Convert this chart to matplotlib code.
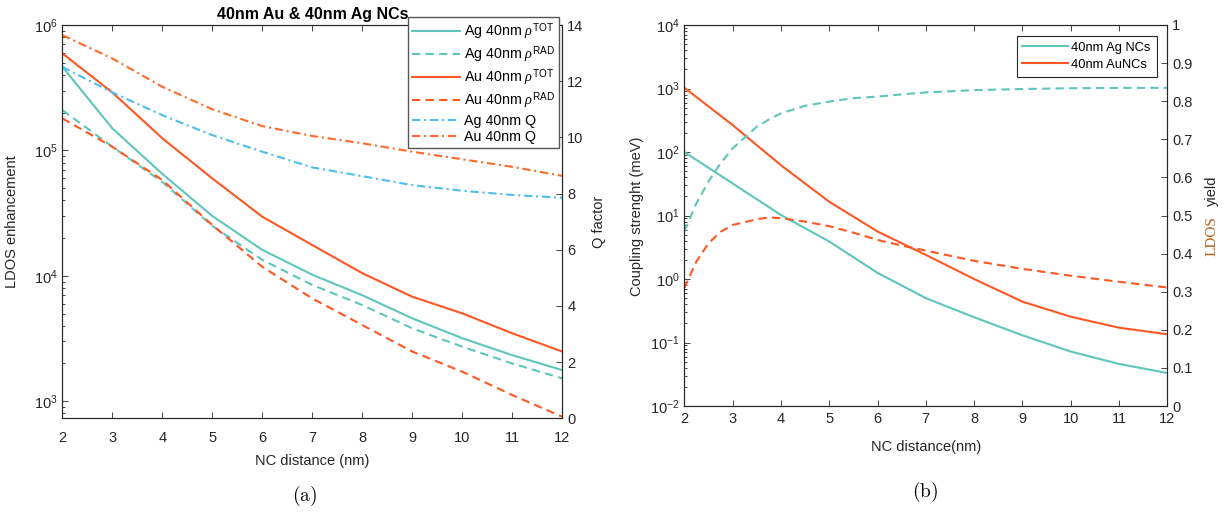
import matplotlib
matplotlib.use('Agg')
from matplotlib import pyplot as plt
import numpy as np

plt.rcParams['font.family'] = ['Liberation Sans', 'DejaVu Sans']
plt.rcParams['mathtext.fontset'] = 'custom'
plt.rcParams['mathtext.rm'] = 'Liberation Sans'
plt.rcParams['mathtext.it'] = 'Liberation Serif:italic'
plt.rcParams['mathtext.sf'] = 'Liberation Sans'

# panel (a): LDOS enhancement (left axis) and Q factor (right axis)
dist = [2, 3, 4, 5, 6, 7, 8, 9, 10, 11, 12]
ag_tot = [4.65e5, 1.5e5, 6.5e4, 3.0e4, 1.61e4, 1.02e4, 7.0e3, 4.58e3, 3.18e3, 2.33e3, 1.77e3]
ag_rad = [2.10e5, 1.07e5, 5.6e4, 2.5e4, 1.34e4, 8.45e3, 5.85e3, 3.81e3, 2.72e3, 2.0e3, 1.52e3]
au_tot = [5.94e5, 2.90e5, 1.25e5, 5.98e4, 2.96e4, 1.76e4, 1.05e4, 6.81e3, 5.02e3, 3.48e3, 2.49e3]
au_rad = [1.80e5, 1.07e5, 5.8e4, 2.54e4, 1.18e4, 6.6e3, 4.05e3, 2.49e3, 1.72e3, 1.12e3, 752]
ag_q = [12.51, 11.60, 10.79, 10.08, 9.49, 8.93, 8.62, 8.30, 8.10, 7.95, 7.85]
au_q = [13.64, 12.81, 11.80, 11.00, 10.40, 10.05, 9.79, 9.49, 9.22, 8.95, 8.63]

# panel (b): coupling strength (left axis) and LDOS yield (right axis)
coup_ag = [100, 32, 10.2, 3.9, 1.25, 0.5, 0.25, 0.13, 0.072, 0.046, 0.033]
coup_au = [1030, 266, 62, 16.5, 5.6, 2.4, 1.0, 0.44, 0.255, 0.171, 0.135]
dist_fine = [2, 2.25, 2.5, 2.75, 3, 3.5, 3.75, 4, 4.5, 5, 5.5, 6, 6.5, 7, 8, 9, 10, 11, 12]
yield_ag = [0.458, 0.532, 0.589, 0.637, 0.676, 0.733, 0.752, 0.768, 0.788, 0.799, 0.808,
            0.812, 0.818, 0.823, 0.829, 0.832, 0.834, 0.835, 0.835]
yield_au = [0.309, 0.379, 0.427, 0.457, 0.475, 0.490, 0.495, 0.493, 0.484, 0.472, 0.455,
            0.436, 0.421, 0.408, 0.381, 0.360, 0.342, 0.326, 0.311]

teal = '#5EC6BA'
orange = '#FF5722'
orange_q = '#FF6A2C'
blue = '#4DBEEE'
dark = '#262626'
lw = 1.5
dash = (4, 2.5)
dashdot = (4, 1.8, 1, 1.8)

W, H = 1231, 517
fig = plt.figure(figsize=(W / 100, H / 100), dpi=100)


def style(ax):
    for s in ax.spines.values():
        s.set_color(dark)
        s.set_linewidth(0.8)
    ax.tick_params(which='both', direction='in', colors=dark, labelsize=10.5, width=0.6)
    ax.tick_params(which='major', length=4)
    ax.tick_params(which='minor', length=2)


def ftext(x, y, s, color=dark, **kw):
    fig.text(x / W, 1 - y / H, s, ha='center', va='center', color=color, **kw)


# ---- (a)
ax1 = fig.add_axes([62.3 / W, 1 - 418.3 / H, 500 / W, 393.3 / H])
ax1.plot(dist, ag_tot, color=teal, lw=lw, label=r'Ag 40nm $\rho^{\mathrm{TOT}}$')
ax1.plot(dist, ag_rad, color=teal, lw=lw, dashes=dash, label=r'Ag 40nm $\rho^{\mathrm{RAD}}$')
ax1.plot(dist, au_tot, color=orange, lw=lw, label=r'Au 40nm $\rho^{\mathrm{TOT}}$')
ax1.plot(dist, au_rad, color=orange, lw=lw, dashes=dash, label=r'Au 40nm $\rho^{\mathrm{RAD}}$')
ax1.set_yscale('log')
ax1.set_ylim(731, 1e6)
ax1.set_xlim(2, 12)
ax1.set_xticks(range(2, 13))
ax1.tick_params(top=True)
style(ax1)
ax1.tick_params(axis='x', pad=9)
ax1.set_title('40nm Au & 40nm Ag NCs', fontsize=11.5, fontweight='bold', color='black', pad=4)

ax1r = ax1.twinx()
ax1r.plot(dist, ag_q, color=blue, lw=lw, dashes=dashdot, label='Ag 40nm Q')
ax1r.plot(dist, au_q, color=orange_q, lw=lw, dashes=dashdot, label='Au 40nm Q')
ax1r.set_ylim(0, 14)
ax1r.set_yticks(range(0, 15, 2))
style(ax1r)

h1, l1 = ax1.get_legend_handles_labels()
h2, l2 = ax1r.get_legend_handles_labels()
leg = ax1r.legend(h1 + h2, l1 + l2, loc='upper right', bbox_to_anchor=(0.994, 1.02),
                  fontsize=10.3, handlelength=3.3, handletextpad=0.3, labelspacing=0.15,
                  borderpad=0.3, borderaxespad=0, fancybox=False, framealpha=1)
leg.get_frame().set_edgecolor('#555555')
leg.get_frame().set_linewidth(1.0)

ftext(12, 222, 'LDOS enhancement', rotation=90, fontsize=10.5)
ftext(599, 222, 'Q factor', rotation=90, fontsize=10.5)
ftext(312, 461, 'NC distance (nm)', fontsize=10.5)
ftext(305, 496, r'$\mathrm{(a)}$', fontsize=14, math_fontfamily='cm', color='black')

# ---- (b)
ax2 = fig.add_axes([684.3 / W, 1 - 406 / H, 483 / W, 381 / H])
ax2.plot(dist, coup_ag, color=teal, lw=lw, label='40nm Ag NCs')
ax2.plot(dist, coup_au, color=orange, lw=lw, label='40nm AuNCs')
ax2.set_yscale('log')
ax2.set_ylim(1e-2, 1e4)
ax2.set_xlim(2, 12)
ax2.set_xticks(range(2, 13))
ax2.tick_params(top=True)
style(ax2)
ax2.tick_params(axis='x', pad=4.5)

ax2r = ax2.twinx()
ax2r.plot(dist_fine, yield_ag, color=teal, lw=lw, dashes=dash)
ax2r.plot(dist_fine, yield_au, color=orange, lw=lw, dashes=dash)
ax2r.set_ylim(0, 1)
yt = np.round(np.arange(0, 1.01, 0.1), 1)
ax2r.set_yticks(yt)
ax2r.set_yticklabels(['0'] + ['%.1f' % v for v in yt[1:-1]] + ['1'])
style(ax2r)

h3, l3 = ax2.get_legend_handles_labels()
leg2 = ax2r.legend(h3, l3, loc='upper right', bbox_to_anchor=(0.978, 0.972),
                   fontsize=9.3, handlelength=3.5, handletextpad=0.3, labelspacing=0.4,
                   borderpad=0.45, borderaxespad=0, fancybox=False, framealpha=1)
leg2.get_frame().set_edgecolor(dark)
leg2.get_frame().set_linewidth(0.8)

ftext(637, 216, 'Coupling strenght (meV)', rotation=90, fontsize=10.5)
ftext(1212, 236, 'LDOS', rotation=90, fontsize=11, family='Liberation Serif', color='#B4611A')
ftext(1212, 191, 'yield', rotation=90, fontsize=10.5)
ftext(926, 447, 'NC distance(nm)', fontsize=10.5)
ftext(925, 492, r'$\mathrm{(b)}$', fontsize=14, math_fontfamily='cm', color='black')

fig.savefig('out.png', dpi=100)
